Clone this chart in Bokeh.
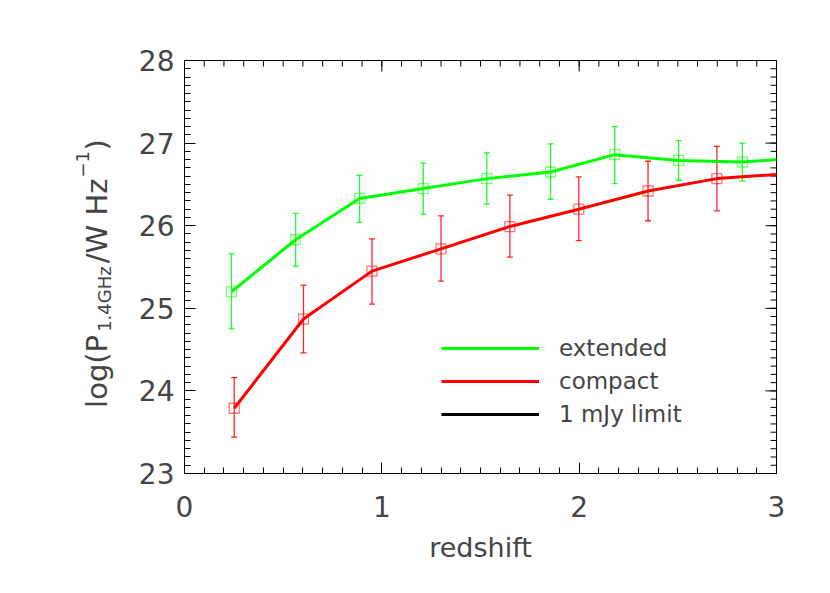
import numpy as np
from bokeh.plotting import figure
from bokeh.layouts import row
from bokeh.models import (ColumnDataSource, Whisker, TeeHead, FixedTicker,
                          Range1d, Legend, LegendItem)
from bokeh.core.properties import value
from bokeh.embed import file_html
from bokeh.resources import INLINE

# ---------------- data ----------------
ext_z = [0.238, 0.563, 0.887, 1.210, 1.532, 1.855, 2.180, 2.504, 2.827]
ext_logp = [25.20, 25.83, 26.33, 26.45, 26.57, 26.65, 26.86, 26.79, 26.77]
ext_hi = [25.66, 26.15, 26.61, 26.76, 26.88, 26.99, 27.20, 27.03, 27.00]
ext_lo = [24.75, 25.51, 26.04, 26.14, 26.26, 26.32, 26.51, 26.55, 26.54]
ext_curve_z = [0.238, 0.563, 0.887, 1.210, 1.532, 1.855, 2.180, 2.504, 2.827, 3.0]
ext_curve_logp = [25.20, 25.83, 26.33, 26.45, 26.57, 26.65, 26.86, 26.79, 26.77, 26.80]

cmp_z = [0.252, 0.603, 0.950, 1.300, 1.649, 1.998, 2.349, 2.698]
cmp_logp = [23.79, 24.87, 25.45, 25.72, 25.99, 26.20, 26.42, 26.57]
cmp_hi = [24.16, 25.28, 25.84, 26.12, 26.37, 26.59, 26.78, 26.96]
cmp_lo = [23.44, 24.46, 25.05, 25.33, 25.62, 25.82, 26.06, 26.18]
cmp_curve_z = [0.252, 0.603, 0.950, 1.300, 1.649, 1.998, 2.349, 2.698, 3.0]
cmp_curve_logp = [23.79, 24.87, 25.45, 25.72, 25.99, 26.20, 26.42, 26.57, 26.62]

# the 1 mJy limit curve is not visible inside the plotted window
limit_z = [0.0, 3.0]
limit_logp = [float("nan"), float("nan")]

x_ticks = [0, 1, 2, 3]
y_ticks = [23, 24, 25, 26, 27, 28]
legend_labels = ["extended", "compact", "1 mJy limit"]
x_label = "redshift"
y_label_parts = ["log(P", "1.4GHz", "/W Hz", "\u22121", ")"]

GREEN = "#00ff00"
RED = "#ff0000"
TXT = "#444444"
FONT = "DejaVu Sans"

X0, X1, Y0, Y1 = 0, 3, 23, 28
H = 585
LW = 130  # width of the strip holding the y-axis title

# ---------------- main plot ----------------
p = figure(width=822 - LW, height=H, x_range=Range1d(X0, X1), y_range=Range1d(Y0, Y1),
           output_backend="svg", toolbar_location=None,
           min_border_left=184 - LW, min_border_right=46, min_border_top=60, min_border_bottom=112)
p.grid.visible = False
p.outline_line_color = "black"
p.outline_line_width = 1
p.background_fill_color = "white"
p.border_fill_color = "white"

x_minor = [round(v, 2) for v in np.arange(X0, X1 + 0.0001, 0.1)]
y_minor = [round(v, 2) for v in np.arange(Y0, Y1 + 0.0001, 0.1)]
xt = FixedTicker(ticks=x_ticks, minor_ticks=x_minor)
yt = FixedTicker(ticks=y_ticks, minor_ticks=y_minor)

for ax in (p.xaxis[0], p.yaxis[0]):
    ax.major_tick_in = 11
    ax.major_tick_out = 0
    ax.minor_tick_in = 6
    ax.minor_tick_out = 0
    ax.axis_line_color = "black"
    ax.major_tick_line_color = "black"
    ax.minor_tick_line_color = "black"
    ax.major_label_text_font = FONT
    ax.major_label_text_color = TXT
    ax.major_label_text_font_size = "28px"

p.xaxis.ticker = xt
p.yaxis.ticker = yt
p.xaxis.major_label_standoff = 22
p.yaxis.major_label_standoff = 10
p.xaxis.axis_label = x_label
p.xaxis.axis_label_text_font = FONT
p.xaxis.axis_label_text_font_size = "27px"
p.xaxis.axis_label_text_font_style = "normal"
p.xaxis.axis_label_text_color = TXT
p.xaxis.axis_label_standoff = 12

# mirrored inward ticks on the top and right edges (half of each dash is clipped by the frame)
p.scatter(x_ticks, [Y1] * len(x_ticks), marker="dash", angle=np.pi / 2, size=22,
          line_color="black", line_width=1)
p.scatter(x_minor, [Y1] * len(x_minor), marker="dash", angle=np.pi / 2, size=12,
          line_color="black", line_width=1)
p.scatter([X1] * len(y_ticks), y_ticks, marker="dash", size=22, line_color="black", line_width=1)
p.scatter([X1] * len(y_minor), y_minor, marker="dash", size=12, line_color="black", line_width=1)

# ---------------- error bars ----------------
ext_src = ColumnDataSource(dict(z=ext_z, y=ext_logp, hi=ext_hi, lo=ext_lo))
cmp_src = ColumnDataSource(dict(z=cmp_z, y=cmp_logp, hi=cmp_hi, lo=cmp_lo))

for src, col in ((ext_src, GREEN), (cmp_src, RED)):
    w = Whisker(base="z", upper="hi", lower="lo", source=src, dimension="height",
                line_color=col, line_width=1.3, line_alpha=0.85,
                upper_head=TeeHead(size=6, line_color=col, line_width=1.3, line_alpha=0.85),
                lower_head=TeeHead(size=6, line_color=col, line_width=1.3, line_alpha=0.85))
    p.add_layout(w)

# ---------------- curves ----------------
r_ext = p.line(ext_curve_z, ext_curve_logp, line_color=GREEN, line_width=3)
r_cmp = p.line(cmp_curve_z, cmp_curve_logp, line_color=RED, line_width=3)
r_lim = p.line(limit_z, limit_logp, line_color="black", line_width=3)

p.scatter("z", "y", source=ext_src, marker="square", size=10, fill_color=None,
          line_color=GREEN, line_alpha=0.55, line_width=1.3)
p.scatter("z", "y", source=cmp_src, marker="square", size=10, fill_color=None,
          line_color=RED, line_alpha=0.55, line_width=1.3)

# ---------------- legend ----------------
legend = Legend(items=[LegendItem(label=legend_labels[0], renderers=[r_ext]),
                       LegendItem(label=legend_labels[1], renderers=[r_cmp]),
                       LegendItem(label=legend_labels[2], renderers=[r_lim])],
                location=(257, 46))
legend.label_text_font = FONT
legend.label_text_font_size = "23px"
legend.label_text_color = TXT
legend.glyph_width = 98
legend.glyph_height = 20
legend.label_height = 20
legend.label_standoff = 20
legend.spacing = 7
legend.padding = 0
legend.margin = 0
legend.border_line_color = None
legend.background_fill_alpha = 0
p.add_layout(legend)

# ---------------- y-axis title strip ----------------
# its frame is aligned with the main frame by the row layout, so it shares the y scale
q = figure(width=LW, height=H, x_range=Range1d(0, LW), y_range=Range1d(Y0, Y1),
           output_backend="svg", toolbar_location=None,
           x_axis_location=None, y_axis_location=None,
           min_border=0, min_border_left=0, min_border_right=0,
           min_border_top=60, min_border_bottom=112)
q.grid.visible = False
q.outline_line_color = None
q.background_fill_color = "white"
q.border_fill_color = "white"

ylab_src = ColumnDataSource(dict(
    text=y_label_parts,
    x=[96, 104, 96, 82, 96],
    y=[23.794, 24.715, 25.545, 26.584, 26.909],
    size=["29px", "18px", "29px", "18px", "29px"],
))
q.text(x="x", y="y", text="text", source=ylab_src, angle=np.pi / 2,
       text_font=value(FONT), text_font_size="size", text_color=TXT,
       text_align="left", text_baseline="alphabetic")

layout = row(q, p, spacing=0)
open("out.html", "w").write(file_html(layout, INLINE))
